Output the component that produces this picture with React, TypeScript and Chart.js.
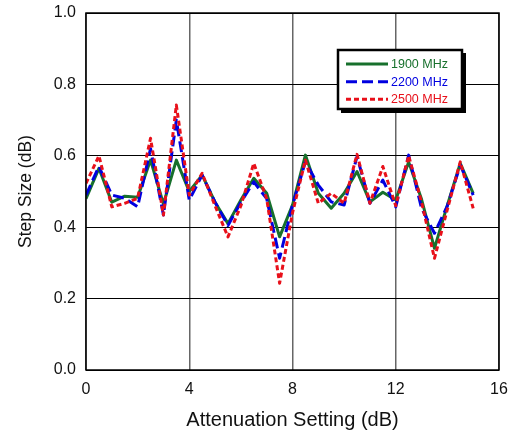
import React, { useEffect, useRef } from "react";
import { Chart, registerables } from "chart.js";

Chart.register(...registerables);

const attenuation = [0, 0.5, 1, 1.5, 2, 2.5, 3, 3.5, 4, 4.5, 5, 5.5, 6, 6.5, 7, 7.5, 8, 8.5, 9, 9.5, 10, 10.5, 11, 11.5, 12, 12.5, 13, 13.5, 14, 14.5, 15];

const step1900 = [0.48, 0.565, 0.47, 0.487, 0.484, 0.588, 0.465, 0.588, 0.5, 0.546, 0.47, 0.41, 0.476, 0.537, 0.495, 0.373, 0.462, 0.602, 0.495, 0.453, 0.495, 0.556, 0.471, 0.498, 0.476, 0.583, 0.478, 0.341, 0.462, 0.579, 0.495];
const step2200 = [0.49, 0.57, 0.49, 0.481, 0.457, 0.62, 0.434, 0.7, 0.476, 0.546, 0.47, 0.405, 0.47, 0.527, 0.48, 0.313, 0.462, 0.583, 0.518, 0.471, 0.462, 0.598, 0.467, 0.532, 0.457, 0.602, 0.453, 0.383, 0.46, 0.574, 0.49];
const step2500 = [0.523, 0.6, 0.457, 0.467, 0.481, 0.649, 0.434, 0.742, 0.49, 0.551, 0.46, 0.373, 0.46, 0.579, 0.48, 0.243, 0.44, 0.588, 0.467, 0.495, 0.467, 0.604, 0.467, 0.57, 0.46, 0.6, 0.47, 0.313, 0.45, 0.583, 0.453];

const seriesLabels = ["1900 MHz", "2200 MHz", "2500 MHz"];
const xTicks = [0, 4, 8, 12, 16];
const yTicks = [0, 0.2, 0.4, 0.6, 0.8, 1.0];

const GREEN = "#17702c";
const BLUE = "#0000e0";
const RED = "#e8101a";
const FONT = "'Liberation Sans', Arial, sans-serif";

const seriesStyles = [
  { color: GREEN, dash: [] as number[] },
  { color: BLUE, dash: [11, 5] },
  { color: RED, dash: [5, 3] },
];

const framePlugin = {
  id: "frameAndLegend",
  afterDraw(chart: any) {
    const { ctx, chartArea: a } = chart;
    ctx.save();
    ctx.strokeStyle = "#000";
    ctx.lineWidth = 1.5;
    ctx.strokeRect(a.left, a.top, a.right - a.left, a.bottom - a.top);

    // legend box
    const bw = 124;
    const bh = 59;
    const bx = a.right - 37 - bw;
    const by = a.top + 37;
    ctx.fillStyle = "#000";
    ctx.fillRect(bx + 3, by + 3, bw + 1, bh + 1);
    ctx.fillStyle = "#fff";
    ctx.fillRect(bx, by, bw, bh);
    ctx.lineWidth = 2.5;
    ctx.strokeRect(bx, by, bw, bh);

    ctx.font = `12.5px ${FONT}`;
    ctx.textBaseline = "middle";
    ctx.textAlign = "left";
    const rows = [14, 31.7, 49.3];
    seriesLabels.forEach((lab, i) => {
      const y = by + rows[i];
      ctx.beginPath();
      ctx.setLineDash(seriesStyles[i].dash);
      ctx.strokeStyle = seriesStyles[i].color;
      ctx.lineWidth = 3;
      ctx.moveTo(bx + 8, y);
      ctx.lineTo(bx + 50, y);
      ctx.stroke();
      ctx.setLineDash([]);
      ctx.fillStyle = seriesStyles[i].color;
      ctx.fillText(lab, bx + 53, y + 0.5);
    });
    ctx.restore();
  },
};

export default function App() {
  const ref = useRef<HTMLCanvasElement | null>(null);

  useEffect(() => {
    document.body.style.margin = "0";
    if (!ref.current) return;
    const allSeries = [step1900, step2200, step2500];
    const chart = new Chart(ref.current, {
      type: "line",
      data: {
        datasets: allSeries.map((vals, i) => ({
          label: seriesLabels[i],
          data: attenuation.map((x, j) => ({ x, y: vals[j] })),
          borderColor: seriesStyles[i].color,
          backgroundColor: seriesStyles[i].color,
          borderDash: seriesStyles[i].dash,
          borderWidth: 3,
          borderJoinStyle: "round" as const,
          pointRadius: 0,
          tension: 0,
          fill: false,
          order: 2 - i,
        })),
      },
      options: {
        animation: false,
        responsive: true,
        maintainAspectRatio: false,
        layout: { padding: { left: 0, right: 10, top: 13, bottom: 0 } },
        plugins: {
          legend: { display: false },
          tooltip: { enabled: false },
        },
        scales: {
          x: {
            type: "linear",
            min: 0,
            max: 16,
            afterBuildTicks: (s: any) => {
              s.ticks = xTicks.map((v) => ({ value: v }));
            },
            afterFit: (s: any) => {
              s.height = 64;
              s.paddingLeft = 0;
              s.paddingRight = 0;
            },
            ticks: {
              color: "#111",
              font: { family: FONT, size: 16 },
              padding: 10,
              maxRotation: 0,
            },
            grid: { color: "#666", lineWidth: 1.5, drawTicks: false },
            border: { display: false },
            title: {
              display: true,
              text: "Attenuation Setting (dB)",
              color: "#111",
              font: { family: FONT, size: 20 },
              padding: { top: 0, bottom: 2 },
            },
          },
          y: {
            type: "linear",
            min: 0,
            max: 1,
            afterBuildTicks: (s: any) => {
              s.ticks = yTicks.map((v) => ({ value: v }));
            },
            afterFit: (s: any) => {
              s.width = 86;
              s.paddingTop = 0;
              s.paddingBottom = 0;
            },
            ticks: {
              color: "#111",
              font: { family: FONT, size: 16 },
              padding: 10,
              callback: (v: any) => Number(v).toFixed(1),
            },
            grid: { color: "#000", lineWidth: 1, drawTicks: false },
            border: { display: false },
            title: {
              display: true,
              text: "Step Size (dB)",
              color: "#111",
              font: { family: FONT, size: 17.5 },
              padding: { top: 16, bottom: 0 },
            },
          },
        },
      },
      plugins: [framePlugin],
    });
    return () => chart.destroy();
  }, []);

  return (
    <div style={{ width: 509, height: 434, position: "relative" }}>
      <canvas ref={ref} />
    </div>
  );
}
